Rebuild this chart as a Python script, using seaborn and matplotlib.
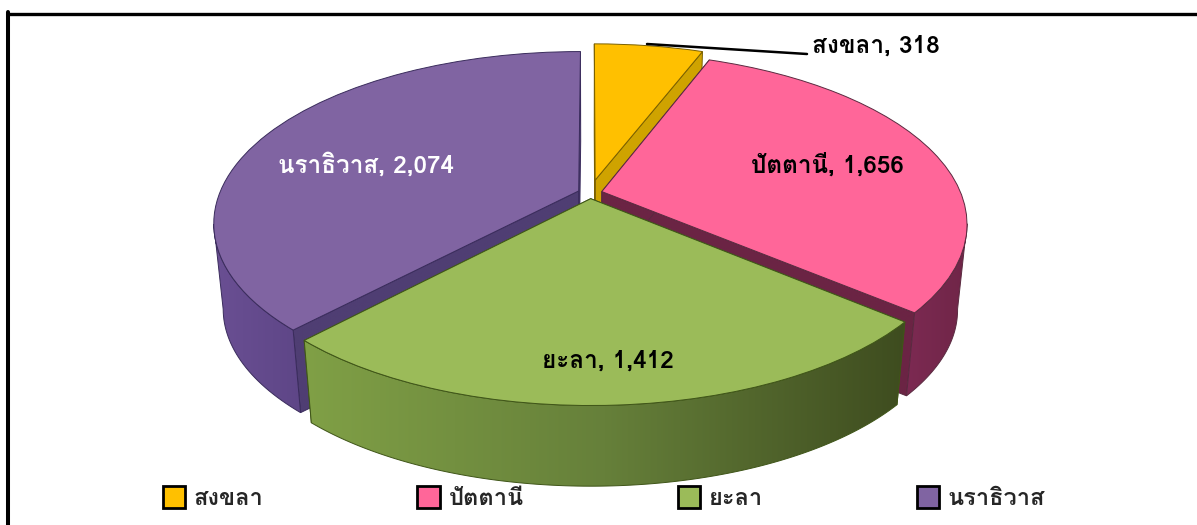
import numpy as np
import seaborn as sns
import matplotlib
matplotlib.use("Agg")
import matplotlib.pyplot as plt
from matplotlib.colors import LinearSegmentedColormap
from matplotlib.patches import Polygon
from matplotlib.transforms import Transform

provinces = ["สงขลา", "ปัตตานี", "ยะลา", "นราธิวาส"]
counts = [318, 1656, 1412, 2074]

explode = [0.08, 0.034, 0.034, 0.034]
top_colors = ["#FFC000", "#FF6699", "#9BBB59", "#8064A2"]
edge_colors = ["#7A6000", "#5A2A40", "#3F5518", "#3A2C5C"]
cut_colors = ["#CFA300", "#6B2444", "#4A5C22", "#4F3E73"]
wall_colors = [
    ["#CFA300", "#CFA300"],
    ["#7C2A52", "#6F2547"],
    ["#80A046", "#66803A", "#3E4C1F"],
    ["#6A4F93", "#5E4687"],
]
label_colors = ["black", "black", "black", "white"]

sns.set_theme(style="white")
plt.rcParams["font.family"] = ["Loma", "Noto Sans"]
plt.rcParams["font.weight"] = "bold"

W, H = 1197, 525
TILT = 0.186


# tilted disc seen in perspective, result is in image pixels
class Tilted(Transform):
    input_dims = 2
    output_dims = 2
    is_separable = False
    has_inverse = False

    def __init__(self, shrink=1.0, drop=0.0):
        super().__init__()
        self.shrink = shrink
        self.drop = drop

    def transform_non_affine(self, values):
        u, v = np.asarray(values).T
        s = 1 / (1 + TILT * v)
        x = 590 + self.shrink * 359 * u * s
        y = 193 - self.shrink * 166 * v * s + self.drop
        return np.column_stack([x, y])


top = Tilted()
bottom = Tilted(shrink=0.975, drop=86)

fig = plt.figure(figsize=(W / 100, H / 100), dpi=100)
ax = fig.add_axes([0, 0, 1, 1])
wedges, _ = ax.pie(counts, explode=explode, colors=top_colors, startangle=90,
                   counterclock=False, labeldistance=None,
                   wedgeprops={"linewidth": 0.7})


def side_face(points, cmap_colors, edge, zorder):
    upper = top.transform(points)
    lower = bottom.transform(points)
    outline = np.vstack([upper, lower[::-1]])
    face = Polygon(outline, closed=True, facecolor="none", edgecolor=edge,
                   linewidth=0.7, zorder=zorder + 0.1)
    ax.add_patch(face)
    cmap = LinearSegmentedColormap.from_list("wall", cmap_colors)
    x0, y0 = outline.min(axis=0)
    x1, y1 = outline.max(axis=0)
    im = ax.imshow(np.linspace(0, 1, 256)[None, :], cmap=cmap, aspect="auto",
                   extent=(x0, x1 + 1, y1 + 1, y0), zorder=zorder)
    im.set_clip_path(face)


# back slices first, green one sits in front of everything
draw_order = [0, 3, 1, 2]
for n, i in enumerate(draw_order):
    w = wedges[i]
    base = 10 * (n + 1)
    centre = np.array(w.center)
    for theta in (w.theta1, w.theta2):
        rad = np.radians(theta)
        rim = centre + w.r * np.array([np.cos(rad), np.sin(rad)])
        cut = np.vstack([centre, rim])
        side_face(cut, [cut_colors[i], cut_colors[i]], edge_colors[i], base)
    # rim is visible only below the widest point of the tilted disc
    angles = np.radians(np.linspace(w.theta1, w.theta2, 120))
    angles = angles[np.sin(angles) < -TILT]
    if len(angles) > 1:
        arc = centre + w.r * np.column_stack([np.cos(angles), np.sin(angles)])
        side_face(arc, wall_colors[i], edge_colors[i], base + 2)
    w.set_transform(top + ax.transData)
    w.set_edgecolor(edge_colors[i])
    w.set_zorder(base + 5)

ax.set_xlim(0, W)
ax.set_ylim(H, 0)
ax.set_aspect("auto")
ax.axis("off")

label_xy = [(812, 46), (827, 165), (608, 361), (366, 165)]
for i, (name, val) in enumerate(zip(provinces, counts)):
    ha = "left" if i == 0 else "center"
    ax.text(label_xy[i][0], label_xy[i][1], f"{name}, {val:,}", ha=ha, va="center",
            fontsize=17.5, color=label_colors[i], zorder=100)
ax.plot([647, 807], [44, 54], color="black", lw=1.8, zorder=100)

leg = ax.legend(wedges, provinces, ncols=4, loc="center",
                bbox_to_anchor=(604 / W, 1 - 498 / H), frameon=False,
                fontsize=17, handlelength=0.94, handleheight=1.04,
                handletextpad=0.38, columnspacing=6.52, borderpad=0)
leg.set_zorder(101)
for patch, color in zip(leg.get_patches(), top_colors):
    patch.set_edgecolor("black")
    patch.set_linewidth(2)
    patch.set_facecolor(color)

# frame has only the top and left rules, the rest is cropped away
ax.plot([8, W], [13.5, 13.5], color="black", lw=2.4, zorder=102)
ax.plot([8, 8], [12, H], color="black", lw=2.9, zorder=102)

fig.savefig("out.png", dpi=100)
